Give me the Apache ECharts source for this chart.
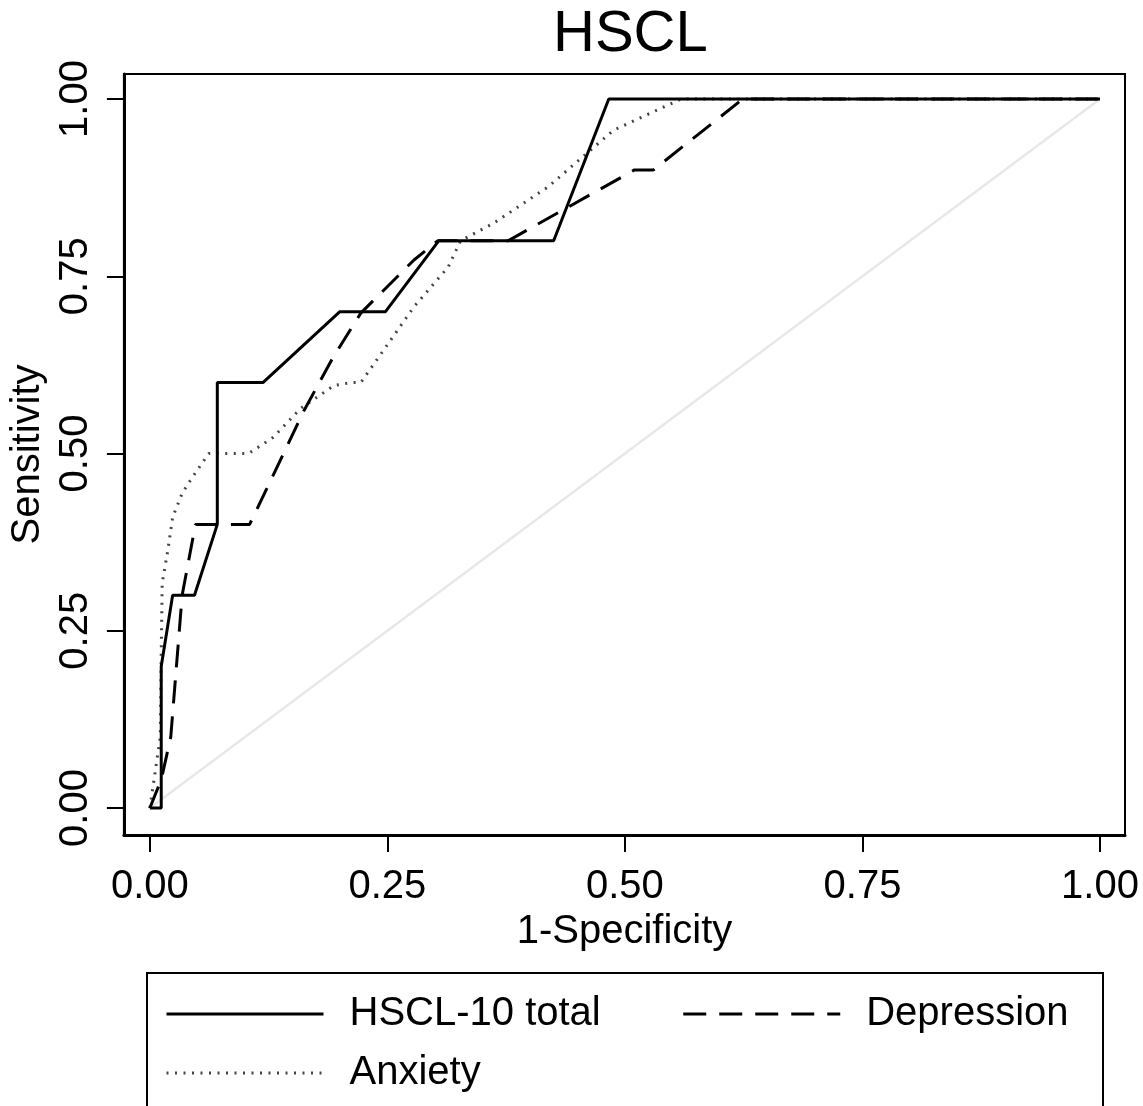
<!DOCTYPE html>
<html>
<head>
<meta charset="utf-8">
<title>HSCL</title>
<script src="https://cdn.jsdelivr.net/npm/echarts@6/dist/echarts.min.js"></script>
<style>
  html, body { margin: 0; padding: 0; background: #fff; }
  #chart { width: 1143px; height: 1106px; }
</style>
</head>
<body>
<div id="chart"></div>
<script>
// tick positions on both axes
const ticks = [0, 0.25, 0.5, 0.75, 1]

// ROC curves: [1-specificity, sensitivity]
const totalPts = [
  [0, 0], [0.012, 0], [0.012, 0.2], [0.024, 0.3], [0.047, 0.3], [0.071, 0.4],
  [0.071, 0.6], [0.119, 0.6], [0.2, 0.7], [0.248, 0.7], [0.304, 0.8],
  [0.425, 0.8], [0.483, 1], [1, 1]
]
const depressionPts = [
  [0, 0], [0.012, 0.04], [0.022, 0.1], [0.034, 0.3], [0.048, 0.4], [0.105, 0.4],
  [0.13, 0.47], [0.162, 0.56], [0.193, 0.636], [0.222, 0.698], [0.278, 0.773],
  [0.303, 0.8], [0.377, 0.8], [0.51, 0.9], [0.53, 0.9], [0.624, 1], [1, 1]
]
const anxietyPts = [
  [0, 0], [0.011, 0.1], [0.012, 0.22], [0.013, 0.317], [0.019, 0.364],
  [0.024, 0.41], [0.034, 0.444], [0.045, 0.467], [0.062, 0.5], [0.104, 0.5],
  [0.13, 0.523], [0.159, 0.564], [0.194, 0.596], [0.212, 0.6], [0.222, 0.6],
  [0.243, 0.64], [0.278, 0.707], [0.314, 0.763], [0.327, 0.8], [0.362, 0.825],
  [0.419, 0.876], [0.488, 0.956], [0.559, 1], [1, 1]
]
const refPts = [[0, 0], [1, 1]]

const FONT = "'Liberation Sans', Arial, sans-serif"

const chart = echarts.init(document.getElementById('chart'))

const axisCommon = {
  type: 'value',
  splitLine: { show: false },
  nameLocation: 'middle',
  nameTextStyle: { fontFamily: FONT, fontSize: 40, color: '#000' },
  axisLine: { show: true, onZero: false, lineStyle: { color: '#000', width: 3 } },
  axisTick: { show: true, customValues: ticks, length: 17, lineStyle: { color: '#000', width: 2 } },
  axisLabel: {
    customValues: ticks,
    fontFamily: FONT,
    fontSize: 40,
    color: '#000',
    formatter: function (v) { return v.toFixed(2) }
  }
}

const legendCommon = {
  padding: 0,
  itemWidth: 157,
  itemHeight: 40,
  itemStyle: { color: 'transparent', borderWidth: 0, opacity: 0 },
  lineStyle: { width: 3 },
  textStyle: { fontFamily: FONT, fontSize: 40, color: '#000', padding: [0, 0, 0, 21] }
}

const option = {
  animation: false,
  backgroundColor: '#fff',
  title: {
    text: 'HSCL',
    left: 548,
    top: 1,
    textStyle: { fontFamily: FONT, fontSize: 58, fontWeight: 'normal', color: '#000' }
  },
  grid: {
    left: 123, right: 18, top: 74, bottom: 271,
    show: true, borderColor: '#000', borderWidth: 2
  },
  xAxis: Object.assign({}, axisCommon, {
    min: -0.0273,
    max: 1.0263,
    name: '1-Specificity',
    nameGap: 68,
    axisLabel: Object.assign({}, axisCommon.axisLabel, { margin: 32 })
  }),
  yAxis: Object.assign({}, axisCommon, {
    min: -0.0381,
    max: 1.0353,
    name: 'Sensitivity',
    nameGap: 67,
    axisLabel: Object.assign({}, axisCommon.axisLabel, { rotate: 90, margin: 28 })
  }),
  legend: [
    Object.assign({}, legendCommon, {
      data: ['HSCL-10 total', 'Depression'],
      left: 165, top: 994, itemGap: 81
    }),
    Object.assign({}, legendCommon, {
      data: ['Anxiety'],
      left: 165, top: 1053
    })
  ],
  graphic: [{
    type: 'rect',
    shape: { x: 147, y: 973, width: 956, height: 200 },
    style: { fill: 'none', stroke: '#000', lineWidth: 2 }
  }],
  series: [
    {
      name: 'reference',
      type: 'line',
      data: refPts,
      symbol: 'none',
      silent: true,
      lineStyle: { color: '#e8e8e8', width: 2.5 },
      z: 1
    },
    {
      name: 'Anxiety',
      type: 'line',
      data: anxietyPts,
      symbol: 'none',
      itemStyle: { color: '#444' },
      lineStyle: { color: '#444', width: 3, type: [2, 6.5] },
      z: 2
    },
    {
      name: 'Depression',
      type: 'line',
      data: depressionPts,
      symbol: 'none',
      itemStyle: { color: '#000' },
      lineStyle: { color: '#000', width: 3, type: [23, 13] },
      z: 3
    },
    {
      name: 'HSCL-10 total',
      type: 'line',
      data: totalPts,
      symbol: 'none',
      itemStyle: { color: '#000' },
      lineStyle: { color: '#000', width: 3 },
      z: 4
    }
  ]
}

chart.setOption(option)
</script>
</body>
</html>
